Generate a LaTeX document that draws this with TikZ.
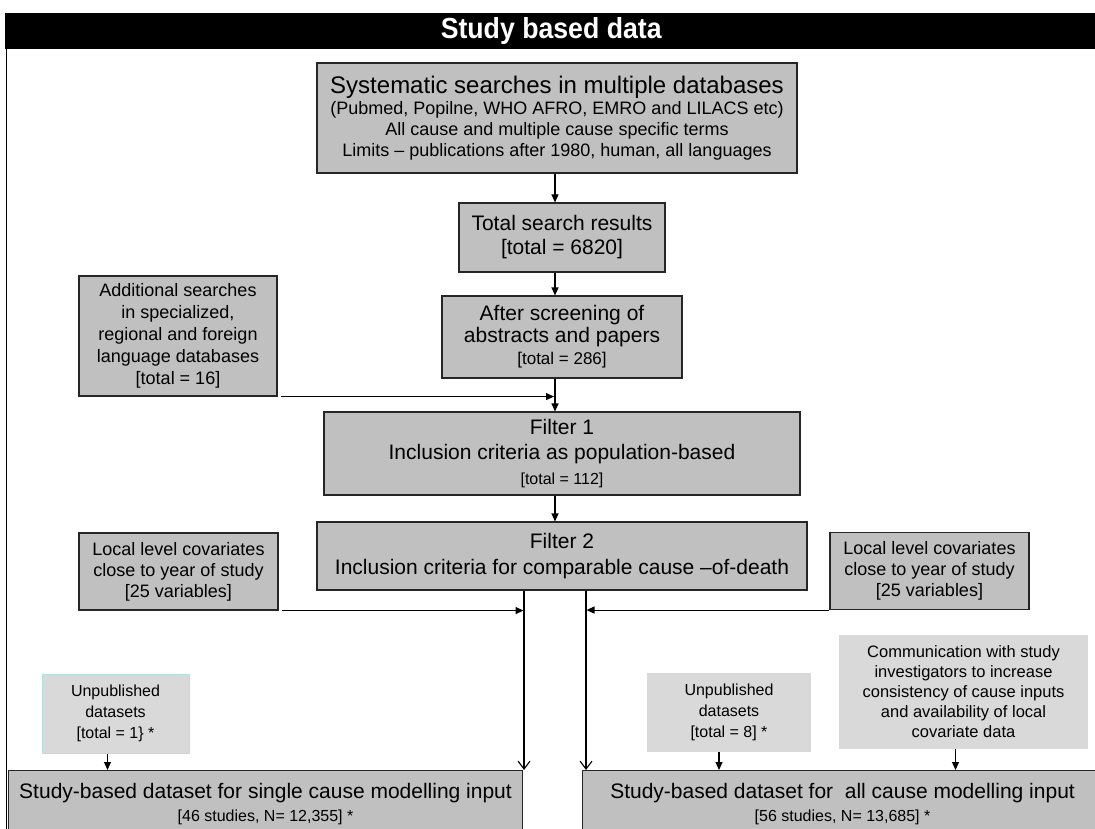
\documentclass[tikz,border=0pt]{standalone}
\usepackage{fontspec}
\setmainfont{Liberation Sans}
\newfontfamily\titlefont[FakeStretch=0.92]{Liberation Sans Bold}
\usetikzlibrary{arrows.meta}
\definecolor{boxgray}{HTML}{C0C0C0}
\definecolor{lightfill}{HTML}{D9D9D9}
\definecolor{cyanedge}{HTML}{B4DDE4}
\newcommand{\fsz}[2]{\fontsize{#1}{#2}\selectfont}
\tikzset{
  gbox/.style={draw=black!85, line width=1.1pt, fill=boxgray, align=center, inner sep=0pt, text=black},
  lbox/.style={fill=lightfill, align=center, inner sep=0pt, text=black},
  arr/.style={line width=1.1pt, -{Triangle[length=8pt,width=7pt]}},
  oarr/.style={line width=1.1pt, -{Straight Barb[length=8pt,width=12pt,line width=1.1pt]}},
}
\begin{document}
\begin{tikzpicture}[x=1pt,y=-1pt]
\useasboundingbox (0,0) rectangle (1095,829);
\clip (0,0) rectangle (1095,829);
% title bar and frame
\node[fill=black, minimum width=1092pt, minimum height=36pt, inner sep=0pt, anchor=north west] (bar) at (5,13) {};
\node[text=white, font=\titlefont\fsz{29}{30}] (title) at (bar.center) {Study based data};
\draw[line width=1.3pt] (bar.south west) ++(1.5,0) coordinate (fl) -- (fl |- 0,829);
% axis coordinates
\coordinate (ax) at (555,0);
\coordinate (vl) at (524,0);
\coordinate (vr) at (586,0);
% boxes
\node[gbox, minimum width=480pt, minimum height=110pt, font=\fsz{18}{21}] (b1) at (557,118)
  {{\fsz{24}{21}Systematic searches in multiple databases}\\(Pubmed, Popilne, WHO AFRO, EMRO and LILACS etc)\\All cause and multiple cause specific terms\\Limits -- publications after 1980, human, all languages};
\node[gbox, minimum width=206pt, minimum height=69pt, font=\fsz{21}{24}] (b2) at (562,237.5)
  {Total search results\\{}[total = 6820]};
\node[gbox, minimum width=240pt, minimum height=82pt, font=\fsz{21}{22}] (b3) at (562,337)
  {After screening of\\abstracts and papers\\{\fsz{17}{22}[total = 286]}};
\node[gbox, minimum width=198pt, minimum height=120pt, font=\fsz{18}{22}] (add) at (178,336)
  {Additional searches\\in specialized,\\regional and foreign\\language databases\\{}[total = 16]};
\node[gbox, minimum width=476pt, minimum height=83pt, font=\fsz{21}{25}] (f1) at (562,453.5)
  {Filter 1\\Inclusion criteria as population-based\\{\fsz{16}{23}[total = 112]}};
\node[gbox, minimum width=490pt, minimum height=68pt, font=\fsz{21}{26}] (f2) at (562,556)
  {Filter 2\\Inclusion criteria for comparable cause --of-death};
\node[gbox, minimum width=199pt, minimum height=77pt, font=\fsz{18}{21}] (locL) at (178.5,571.5)
  {Local level covariates\\close to year of study\\{}[25 variables]};
\node[gbox, minimum width=199pt, minimum height=77pt, font=\fsz{18}{21}] (locR) at (929.5,571)
  {Local level covariates\\close to year of study\\{}[25 variables]};
\node[lbox, draw=cyanedge, line width=1pt, minimum width=147pt, minimum height=79pt, font=\fsz{16}{21}] (unpL) at (115.5,713.5)
  {Unpublished\\datasets\\{}[total = 1\} *};
\node[lbox, minimum width=164pt, minimum height=79pt, font=\fsz{16}{21}] (unpR) at (729,712.5)
  {Unpublished\\datasets\\{}[total = 8] *};
\node[lbox, minimum width=249pt, minimum height=114pt, font=\fsz{16.5}{20}] (comm) at (963.5,692)
  {Communication with study\\investigators to increase\\consistency of cause inputs\\and availability of local\\covariate data};
\node[gbox, minimum width=514pt, minimum height=66pt, anchor=north west, font=\fsz{21}{23}] (finL) at (8,770)
  {Study-based dataset for single cause modelling input\\{\fsz{16}{23}[46 studies, N= 12,355] *}};
\node[gbox, minimum width=520pt, minimum height=66pt, anchor=north west, font=\fsz{21}{23}] (finR) at (582,770)
  {Study-based dataset for\ \ all cause modelling input\\{\fsz{16}{23}[56 studies, N= 13,685] *}};
% connectors
\draw[arr] (b1.south -| ax) -- (b2.north -| ax);
\draw[arr] (b2.south -| ax) -- (b3.north -| ax);
\draw[arr] (b3.south -| ax) -- (f1.north -| ax);
\draw[arr] (f1.south -| ax) -- (f2.north -| ax);
\draw[arr, shorten >=1pt] ([xshift=3pt]add.south east) -- (add.south east -| ax);
\draw[oarr] (f2.south -| vl) -- (finL.north -| vl);
\draw[oarr] (f2.south -| vr) -- (finR.north -| vr);
\draw[arr, shorten >=0.5pt] ([xshift=3pt]locL.south east) -- (locL.south east -| vl);
\draw[arr, shorten >=0.5pt] (locR.south west) -- (locR.south west -| vr);
\draw[arr] ([xshift=-8pt]unpL.south) -- ([xshift=-8pt]unpL.south |- finL.north);
\draw[arr] ([xshift=-10pt]unpR.south) -- ([xshift=-10pt]unpR.south |- finR.north);
\draw[arr] ([xshift=-8pt]comm.south) -- ([xshift=-8pt]comm.south |- finR.north);
\end{tikzpicture}
\end{document}
